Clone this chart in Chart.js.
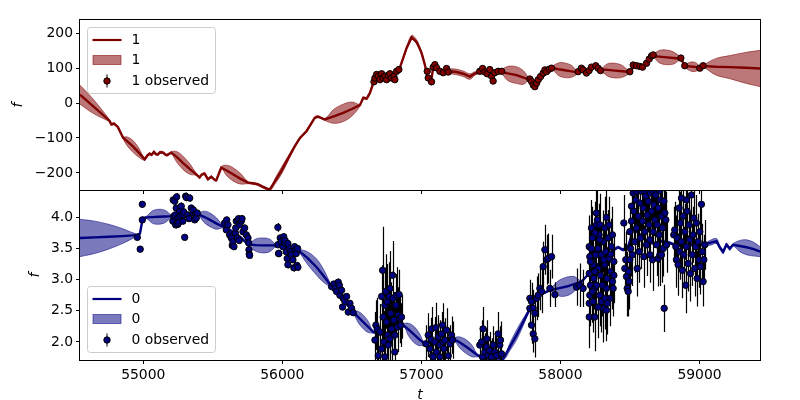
<!DOCTYPE html>
<html>
<head>
<meta charset="utf-8">
<script src="https://cdn.jsdelivr.net/npm/chart.js@4.4.1/dist/chart.umd.min.js"></script>
<style>
  html, body { margin: 0; padding: 0; background: #fff; }
  #wrap { position: relative; width: 800px; height: 400px; }
  #top { position: absolute; left: 0; top: 0; }
  #bottom { position: absolute; left: 0; top: 180px; }
</style>
</head>
<body>
<div id="wrap">
  <canvas id="top" width="800" height="200"></canvas>
  <canvas id="bottom" width="800" height="220"></canvas>
</div>
<script>
// shared axis
const xMin = 54545, xMax = 59435;
const xTicks = [55000, 56000, 57000, 58000, 59000];

// channel 1 (top panel)
const yRange1 = [-249, 238];
const yTicks1 = [-200, -100, 0, 100, 200];
// [t, mean, band half-width]
const gp1 = [
  [54545, 24, 27], [54600, 5, 24], [54651, -13, 19], [54700, -30, 12], [54758, -51, 3],
  [54770, -61, 3], [54789, -59, 3], [54818, -69, 3], [54854, -99, 3], [54885, -110, 13],
  [54926, -124, 17], [54968, -142, 13], [55010, -161, 3], [55030, -150, 3], [55046, -145, 3],
  [55060, -148, 3], [55077, -140, 3], [55090, -146, 3], [55106, -147, 3], [55120, -141, 3],
  [55142, -142, 3], [55160, -148, 3], [55173, -149, 3], [55201, -142, 3], [55240, -154, 15],
  [55285, -171, 19], [55335, -189, 15], [55381, -204, 3], [55405, -213, 3], [55420, -205, 3],
  [55441, -202, 3], [55465, -218, 3], [55489, -211, 3], [55510, -219, 3], [55525, -221, 3],
  [55561, -185, 3], [55600, -193, 15], [55645, -204, 19], [55700, -217, 15], [55753, -228, 3],
  [55790, -230, 3], [55825, -233, 3], [55860, -240, 3], [55909, -248, 3], [55950, -222, 8],
  [55992, -195, 10], [56040, -160, 7], [56088, -125, 3], [56127, -100, 3], [56175, -80, 3],
  [56234, -42, 3], [56258, -39, 3], [56306, -47, 3], [56370, -38, 20], [56438, -28, 25],
  [56500, -17, 20], [56558, -6, 3], [56582, 15, 3], [56606, 13, 3], [56630, 29, 3],
  [56659, 63, 3], [56700, 72, 3], [56750, 74, 3], [56790, 78, 3], [56822, 87, 3],
  [56845, 101, 3], [56894, 158, 4], [56930, 188, 6], [56966, 175, 6], [57001, 144, 4],
  [57025, 110, 3], [57045, 72, 3], [57068, 58, 3], [57085, 101, 3], [57109, 106, 3],
  [57145, 91, 3], [57205, 91, 7], [57253, 89, 8], [57300, 84, 8], [57349, 76, 8],
  [57385, 85, 5], [57433, 89, 3], [57492, 87, 3], [57564, 91, 3], [57620, 85, 20],
  [57684, 80, 24], [57735, 73, 19], [57775, 67, 3], [57816, 48, 3], [57852, 64, 3],
  [57900, 89, 3], [57936, 101, 3], [57985, 97, 18], [58032, 94, 21], [58080, 91, 17],
  [58127, 88, 3], [58163, 99, 3], [58206, 91, 3], [58247, 106, 3], [58288, 96, 3],
  [58340, 95, 18], [58391, 93, 21], [58445, 91, 17], [58499, 89, 3], [58535, 107, 3],
  [58590, 103, 3], [58623, 115, 3], [58662, 134, 3], [58712, 133, 18], [58763, 131, 21],
  [58815, 129, 17], [58866, 127, 3], [58896, 106, 3], [58925, 105, 11], [58954, 104, 14],
  [58980, 103, 11], [59007, 101, 3], [59026, 106, 3], [59120, 104, 24], [59218, 103, 33],
  [59330, 101, 44], [59435, 99, 52]
];
// [t, f, error]
const obs1 = [
  [56659, 61, 3], [56666, 72, 3], [56678, 82, 3], [56690, 77, 3], [56702, 67, 3], [56714, 84, 3],
  [56725, 72, 3], [56738, 77, 3], [56750, 67, 3], [56762, 80, 3], [56774, 84, 3], [56786, 72, 3],
  [56802, 77, 3], [56809, 67, 3], [56822, 91, 3], [56838, 96, 3],
  [57042, 91, 3], [57049, 72, 3], [57073, 61, 3], [57085, 103, 3], [57097, 110, 3], [57109, 101, 3],
  [57133, 91, 3], [57157, 87, 3], [57181, 99, 3], [57193, 89, 3],
  [57420, 91, 3], [57440, 99, 3], [57456, 89, 3], [57473, 84, 3], [57492, 96, 3], [57505, 77, 3],
  [57516, 63, 3], [57528, 87, 3], [57552, 91, 3], [57577, 91, 3],
  [57780, 69, 3], [57792, 62, 3], [57804, 52, 3], [57816, 47, 3], [57828, 57, 3], [57840, 67, 3],
  [57857, 76, 3], [57876, 86, 3], [57888, 95, 3], [57900, 90, 3], [57919, 97, 3], [57936, 100, 3],
  [58127, 90, 3], [58151, 100, 3], [58163, 95, 3], [58187, 86, 3], [58206, 93, 3], [58223, 103, 3],
  [58254, 107, 3], [58271, 100, 3], [58288, 93, 3],
  [58499, 90, 3], [58523, 109, 3], [58547, 107, 3], [58571, 105, 3], [58590, 103, 3], [58619, 114, 3],
  [58638, 126, 3], [58655, 135, 3], [58667, 138, 3],
  [58866, 129, 3], [58894, 107, 3], [59002, 100, 3], [59026, 107, 3]
];

// channel 0 (bottom panel)
const yRange0 = [1.71, 4.44];
const yTicks0 = [2.0, 2.5, 3.0, 3.5, 4.0];
const gp0 = [
  [54545, 3.67, 0.30], [54650, 3.68, 0.26], [54750, 3.69, 0.20], [54850, 3.70, 0.12], [54953, 3.715, 0.02],
  [54976, 3.74, 0.02], [54996, 3.98, 0.02], [55024, 4.00, 0.02], [55066, 4.005, 0.10], [55108, 4.01, 0.12],
  [55156, 4.015, 0.10], [55204, 4.02, 0.02], [55250, 4.04, 0.02], [55300, 4.06, 0.02], [55350, 4.05, 0.02],
  [55395, 4.05, 0.02], [55437, 4.01, 0.09], [55480, 3.96, 0.11], [55527, 3.90, 0.09], [55575, 3.85, 0.02],
  [55620, 3.80, 0.02], [55660, 3.74, 0.02], [55700, 3.68, 0.02], [55755, 3.565, 0.02], [55810, 3.555, 0.10],
  [55863, 3.55, 0.12], [55910, 3.55, 0.10], [55954, 3.55, 0.02], [56000, 3.54, 0.02], [56060, 3.51, 0.02],
  [56114, 3.47, 0.02], [56180, 3.35, 0.10], [56247, 3.20, 0.13], [56300, 3.05, 0.10], [56354, 2.89, 0.02],
  [56420, 2.72, 0.02], [56510, 2.48, 0.02], [56546, 2.40, 0.09], [56582, 2.32, 0.11], [56618, 2.24, 0.09],
  [56654, 2.16, 0.02], [56730, 2.12, 0.02], [56800, 2.18, 0.02], [56869, 2.27, 0.02], [56907, 2.20, 0.10],
  [56946, 2.12, 0.13], [56985, 2.04, 0.10], [57025, 1.97, 0.02], [57100, 2.00, 0.02], [57160, 2.03, 0.02],
  [57229, 2.05, 0.02], [57277, 1.99, 0.09], [57325, 1.92, 0.11], [57366, 1.85, 0.09], [57408, 1.78, 0.02],
  [57500, 1.75, 0.02], [57588, 1.73, 0.02], [57636, 1.92, 0.06], [57684, 2.11, 0.08], [57730, 2.31, 0.06],
  [57775, 2.51, 0.02], [57800, 2.60, 0.02], [57852, 2.75, 0.02], [57924, 2.83, 0.02], [57984, 2.86, 0.12],
  [58044, 2.89, 0.15], [58098, 2.93, 0.12], [58152, 2.97, 0.02], [58270, 3.25, 0.02], [58391, 3.49, 0.02],
  [58415, 3.52, 0.02], [58451, 3.48, 0.02], [58490, 3.55, 0.02], [58524, 3.82, 0.02], [58560, 3.75, 0.02],
  [58620, 3.62, 0.02], [58680, 3.58, 0.02], [58720, 3.62, 0.02], [58787, 3.59, 0.02], [58835, 3.55, 0.02],
  [58950, 3.56, 0.02], [59040, 3.57, 0.02], [59074, 3.59, 0.04], [59122, 3.62, 0.04], [59146, 3.52, 0.03],
  [59170, 3.45, 0.03], [59194, 3.56, 0.03], [59218, 3.50, 0.03], [59242, 3.56, 0.02], [59290, 3.54, 0.09],
  [59338, 3.52, 0.12], [59390, 3.49, 0.11], [59435, 3.45, 0.08]
];
const obs0 = [
  [54957, 3.68, .05], [54978, 3.49, .05], [54993, 4.21, .05], [54993, 3.96, .05],
  [55213, 3.94, .06], [55215, 4.28, .06], [55220, 4.02, .05], [55226, 4.26, .06], [55230, 4.04, .05],
  [55233, 3.88, .06], [55237, 4.15, .05], [55240, 4.33, .06], [55249, 3.99, .05], [55249, 3.89, .06],
  [55255, 3.92, .05], [55262, 4.10, .05], [55265, 4.02, .05], [55273, 4.18, .06], [55285, 3.94, .05],
  [55285, 4.04, .05], [55290, 4.09, .05], [55298, 3.68, .05], [55305, 4.34, .06], [55310, 4.32, .06],
  [55321, 4.04, .05], [55330, 3.98, .05], [55334, 4.31, .06], [55345, 4.15, .05], [55357, 4.07, .05],
  [55360, 4.12, .05], [55370, 3.96, .05], [55375, 4.05, .05], [55381, 3.99, .05], [55388, 4.07, .05],
  [55585, 3.91, .05], [55597, 3.80, .05], [55600, 3.96, .05], [55609, 3.88, .05], [55621, 3.72, .05],
  [55633, 3.67, .05], [55640, 3.55, .06], [55645, 3.61, .05], [55652, 3.53, .05], [55662, 3.75, .05],
  [55665, 3.83, .05], [55669, 3.94, .05], [55677, 3.67, .05], [55681, 3.96, .05], [55685, 3.98, .05],
  [55690, 3.63, .05], [55693, 3.88, .05], [55705, 3.94, .05], [55710, 3.98, .05], [55717, 3.77, .05],
  [55729, 3.83, .05], [55741, 3.72, .05], [55753, 3.67, .05], [55758, 3.59, .05], [55760, 3.48, .05],
  [55762, 3.41, .05], [55765, 3.39, .05],
  [55968, 3.84, .07], [55968, 3.56, .05], [55973, 3.42, .06], [55975, 3.42, .05], [55985, 3.67, .05],
  [55992, 3.61, .05], [56004, 3.53, .05], [56010, 3.69, .05], [56016, 3.59, .05], [56020, 3.63, .05],
  [56028, 3.45, .05], [56035, 3.34, .05], [56040, 3.24, .06], [56040, 3.58, .05], [56052, 3.50, .05],
  [56060, 3.45, .05], [56064, 3.40, .05], [56076, 3.32, .05], [56083, 3.19, .06], [56088, 3.53, .05],
  [56095, 3.47, .05], [56100, 3.42, .05], [56105, 3.23, .05], [56110, 3.50, .05], [56112, 3.20, .06],
  [56354, 2.89, .05], [56370, 2.93, .05], [56378, 2.86, .05], [56390, 2.81, .05], [56402, 2.96, .06],
  [56410, 2.91, .05], [56414, 2.75, .05], [56426, 2.83, .05], [56433, 2.56, .05], [56438, 2.70, .05],
  [56450, 2.65, .05], [56462, 2.73, .05], [56474, 2.48, .05], [56486, 2.62, .05], [56498, 2.54, .05],
  [56510, 2.47, .05],
  [56666, 2.03, .45], [56673, 2.27, .40], [56682, 2.21, .50], [56690, 1.78, .40], [56702, 2.16, .45],
  [56714, 2.73, .50], [56714, 1.89, .40], [56721, 3.15, .70], [56725, 2.40, .55], [56730, 2.00, .50],
  [56738, 2.59, .60], [56738, 1.76, .40], [56745, 2.81, .60], [56750, 2.32, .55], [56754, 2.65, .60],
  [56757, 2.11, .50], [56762, 1.95, .45], [56769, 2.73, .55], [56774, 2.86, .60], [56774, 2.05, .40],
  [56779, 2.46, .50], [56786, 2.21, .50], [56793, 3.07, .55], [56797, 2.70, .50], [56802, 2.35, .45],
  [56809, 2.11, .45], [56809, 1.84, .40], [56817, 2.59, .50], [56822, 2.75, .45], [56829, 2.24, .40],
  [56833, 2.43, .45], [56840, 2.76, .40], [56845, 2.38, .40], [56852, 2.27, .35], [56857, 2.40, .35],
  [57032, 1.97, .30], [57049, 2.11, .35], [57061, 1.89, .30], [57070, 2.04, .35], [57073, 2.21, .35],
  [57080, 1.78, .30], [57085, 1.76, .30], [57097, 2.00, .40], [57104, 2.23, .40], [57109, 1.84, .35],
  [57121, 2.08, .35], [57133, 1.95, .40], [57133, 1.76, .30], [57145, 2.13, .35], [57152, 2.27, .35],
  [57155, 2.00, .30], [57162, 1.89, .35], [57169, 2.03, .35], [57181, 2.19, .35], [57193, 1.78, .30],
  [57205, 1.97, .30], [57217, 2.11, .30], [57224, 2.03, .30],
  [57420, 1.95, .30], [57433, 2.00, .35], [57440, 1.76, .30], [57444, 2.21, .35], [57456, 1.84, .30],
  [57468, 1.92, .30], [57470, 2.05, .30], [57480, 1.78, .30], [57492, 1.86, .30], [57500, 1.72, .30],
  [57505, 1.76, .30], [57516, 1.95, .30], [57528, 1.84, .30], [57540, 1.78, .30], [57552, 2.13, .35],
  [57564, 1.95, .30], [57569, 2.03, .30], [57576, 1.81, .30],
  [57780, 2.70, .30], [57780, 2.54, .30], [57792, 2.27, .30], [57792, 2.65, .30], [57804, 2.13, .30],
  [57804, 2.54, .30], [57816, 2.05, .30], [57816, 2.46, .30], [57828, 2.70, .35], [57840, 2.75, .35],
  [57852, 2.86, .35], [57864, 2.81, .35], [57876, 3.21, .40], [57888, 3.48, .40], [57900, 3.32, .40],
  [57912, 3.34, .40], [57924, 2.86, .30], [57936, 3.37, .35], [57960, 2.76, .20],
  [58116, 2.88, .30], [58139, 2.91, .35], [58163, 2.86, .30],
  [58207, 3.53, .50], [58211, 3.37, .50], [58207, 3.10, .50], [58216, 2.91, .50], [58211, 2.75, .50],
  [58207, 2.62, .45], [58207, 2.40, .50], [58223, 3.83, .45], [58230, 3.67, .50], [58235, 3.24, .50],
  [58240, 3.02, .50], [58247, 2.86, .50], [58247, 2.40, .55], [58235, 2.65, .50], [58254, 3.40, .50],
  [58259, 4.07, .45], [58259, 3.88, .50], [58266, 3.96, .50], [58271, 3.50, .50], [58271, 3.18, .50],
  [58278, 3.72, .50], [58283, 2.75, .50], [58288, 3.07, .50], [58295, 3.40, .50], [58302, 2.91, .50],
  [58307, 3.61, .50], [58307, 2.54, .55], [58319, 3.24, .50], [58319, 3.83, .50], [58326, 3.45, .50],
  [58331, 4.00, .45], [58331, 2.86, .50], [58336, 3.02, .50], [58343, 3.67, .45], [58350, 3.34, .50],
  [58355, 2.70, .45], [58360, 3.13, .45], [58367, 3.53, .45], [58374, 2.97, .45], [58374, 3.72, .45],
  [58379, 2.86, .45], [58384, 3.29, .45], [58384, 3.07, .45], [58331, 2.51, .50], [58312, 3.32, .50],
  [58295, 2.65, .50], [58271, 2.56, .50], [58247, 3.13, .50], [58223, 3.50, .50], [58230, 2.81, .50],
  [58259, 2.91, .50], [58283, 3.64, .50], [58362, 3.41, .45], [58350, 3.88, .45], [58283, 3.88, .50],
  [58249, 3.75, .50], [58216, 3.29, .50], [58321, 2.70, .50], [58338, 2.62, .50],
  [58456, 3.91, .45], [58463, 3.18, .40], [58470, 3.32, .45], [58475, 3.05, .40], [58480, 2.86, .45],
  [58487, 2.81, .40], [58490, 3.13, .45], [58494, 2.97, .45], [58499, 3.77, .45], [58499, 3.32, .50],
  [58504, 3.50, .45], [58511, 4.18, .50], [58511, 3.94, .45], [58518, 3.40, .50], [58523, 4.39, .45],
  [58528, 4.10, .50], [58530, 4.50, .45], [58535, 3.61, .50], [58542, 4.28, .45], [58547, 3.83, .50],
  [58547, 4.42, .45], [58552, 3.18, .45], [58559, 4.02, .50], [58560, 4.55, .45], [58566, 3.45, .50],
  [58571, 4.23, .45], [58576, 3.67, .50], [58583, 4.42, .45], [58590, 3.94, .50], [58595, 4.15, .45],
  [58600, 3.37, .50], [58600, 4.60, .45], [58607, 3.77, .45], [58607, 4.42, .50], [58614, 4.34, .45],
  [58619, 3.56, .50], [58624, 4.04, .45], [58631, 4.26, .50], [58638, 3.88, .45], [58643, 3.64, .50],
  [58643, 3.40, .45], [58648, 4.39, .45], [58650, 4.52, .50], [58655, 4.10, .45], [58662, 3.32, .50],
  [58667, 3.77, .45], [58667, 4.42, .45], [58672, 4.20, .50], [58679, 3.96, .45], [58686, 4.36, .45],
  [58691, 3.56, .50], [58696, 3.88, .45], [58700, 4.58, .45], [58703, 4.15, .50], [58703, 3.34, .45],
  [58710, 3.72, .45], [58715, 3.40, .50], [58715, 4.43, .45], [58720, 4.28, .45], [58727, 4.02, .50],
  [58727, 3.40, .45], [58734, 3.83, .45], [58739, 3.50, .45], [58744, 4.26, .45], [58746, 2.54, .38],
  [58751, 4.07, .45], [58758, 3.96, .45], [58763, 3.56, .45],
  [58815, 3.72, .45], [58822, 3.80, .45], [58830, 3.53, .50], [58834, 3.32, .45], [58839, 3.67, .45],
  [58846, 3.24, .50], [58853, 4.15, .45], [58858, 3.45, .45], [58863, 3.91, .50], [58870, 3.61, .45],
  [58870, 4.31, .45], [58877, 3.15, .45], [58880, 4.55, .45], [58882, 4.02, .50], [58887, 3.40, .45],
  [58894, 3.77, .45], [58901, 2.91, .45], [58906, 3.53, .50], [58906, 4.28, .45], [58911, 4.10, .45],
  [58918, 3.26, .45], [58925, 3.88, .50], [58930, 3.64, .45], [58935, 3.10, .45], [58942, 4.36, .45],
  [58949, 3.40, .50], [58954, 3.72, .45], [58959, 3.99, .45], [58960, 4.50, .45], [58966, 3.18, .45],
  [58973, 3.53, .50], [58978, 3.91, .45], [58983, 3.02, .45], [58990, 3.61, .45], [58997, 3.32, .45],
  [59002, 3.77, .45], [59007, 3.21, .45], [59014, 4.21, .45], [59021, 3.45, .45], [59026, 2.97, .40],
  [59031, 3.32, .40], [59038, 3.56, .40]
];

Chart.defaults.font.family = "'DejaVu Sans', sans-serif";
Chart.defaults.font.size = 13.9;
Chart.defaults.color = '#000';

// error bars under the markers, frame and in-axes legend
const panelPlugin = {
  id: 'panel',
  beforeDatasetDraw(chart, args) {
    const ds = chart.data.datasets[args.index];
    if (!ds.errors) return;
    const { ctx, chartArea: a } = chart;
    const xs = chart.scales.x, ys = chart.scales.y;
    ctx.save();
    ctx.beginPath();
    ctx.rect(a.left, a.top, a.right - a.left, a.bottom - a.top);
    ctx.clip();
    ctx.strokeStyle = '#000';
    ctx.lineWidth = 1.2;
    ctx.beginPath();
    ds.data.forEach((p, i) => {
      const x = Math.round(xs.getPixelForValue(p.x)) + 0.5;
      ctx.moveTo(x, ys.getPixelForValue(p.y - ds.errors[i]));
      ctx.lineTo(x, ys.getPixelForValue(p.y + ds.errors[i]));
    });
    ctx.stroke();
    ctx.restore();
  },
  afterDraw(chart, args, opts) {
    const { ctx, chartArea: a } = chart;
    ctx.save();
    ctx.strokeStyle = '#000';
    ctx.lineWidth = 1;
    // both panels share the spine at the seam
    const top = opts.at === 'top' ? a.top - 0.5 : a.top + 0.5;
    ctx.strokeRect(a.left - 0.5, top, a.right - a.left + 1, a.bottom + 0.5 - top);

    const bx = a.left + 7.5;
    const by = opts.at === 'top' ? a.top + 7.5 : a.bottom - 73.5;
    ctx.beginPath();
    ctx.roundRect(bx, by, 128, 66, 3);
    ctx.fillStyle = 'rgba(255,255,255,0.8)';
    ctx.fill();
    ctx.strokeStyle = '#cccccc';
    ctx.stroke();

    // line handle
    ctx.strokeStyle = opts.line;
    ctx.lineWidth = 2.2;
    ctx.beginPath();
    ctx.moveTo(bx + 5, by + 12.5);
    ctx.lineTo(bx + 34, by + 12.5);
    ctx.stroke();
    // band handle
    ctx.fillStyle = opts.band;
    ctx.strokeStyle = opts.band;
    ctx.lineWidth = 1;
    ctx.fillRect(bx + 5.5, by + 28, 28, 9);
    ctx.strokeRect(bx + 5.5, by + 28, 28, 9);
    // observed handle
    ctx.strokeStyle = '#000';
    ctx.beginPath();
    ctx.moveTo(bx + 19.5, by + 47);
    ctx.lineTo(bx + 19.5, by + 60);
    ctx.stroke();
    ctx.beginPath();
    ctx.arc(bx + 19.5, by + 53.5, 3.2, 0, Math.PI * 2);
    ctx.fillStyle = opts.point;
    ctx.fill();
    ctx.stroke();

    ctx.fillStyle = '#000';
    ctx.font = "13.9px 'DejaVu Sans', sans-serif";
    ctx.textBaseline = 'middle';
    ctx.textAlign = 'left';
    ctx.fillText(opts.label, bx + 44, by + 12.5);
    ctx.fillText(opts.label, bx + 44, by + 33);
    ctx.fillText(opts.label + ' observed', bx + 44, by + 53.5);
    ctx.restore();
  }
};

function gpDatasets(gp, obs, line, band, point) {
  return [
    {
      data: obs.map(r => ({ x: r[0], y: r[1] })),
      errors: obs.map(r => r[2]),
      showLine: false,
      pointRadius: 3.2,
      pointBackgroundColor: point,
      pointBorderColor: '#000',
      pointBorderWidth: 1,
      clip: 0
    },
    {
      data: gp.map(r => ({ x: r[0], y: r[1] })),
      showLine: true, borderColor: line, borderWidth: 2.4, pointRadius: 0, clip: 0
    },
    {
      data: gp.map(r => ({ x: r[0], y: r[1] + r[2] })),
      showLine: true, borderColor: band, borderWidth: 1, backgroundColor: band,
      fill: '+1', pointRadius: 0, tension: 0.35, clip: 0
    },
    {
      data: gp.map(r => ({ x: r[0], y: r[1] - r[2] })),
      showLine: true, borderColor: band, borderWidth: 1,
      pointRadius: 0, tension: 0.35, clip: 0
    }
  ];
}

const tickGrid = { display: true, drawOnChartArea: false, drawTicks: true, tickLength: 4, color: '#000', lineWidth: 1 };

function xAxis(withLabels, height) {
  return {
    type: 'linear', min: xMin, max: xMax,
    afterBuildTicks: s => { s.ticks = xTicks.map(v => ({ value: v })); },
    afterFit: s => { s.height = height; s.paddingLeft = 0; s.paddingRight = 0; },
    grid: tickGrid,
    border: { display: false },
    ticks: { display: withLabels, padding: 3, maxRotation: 0, autoSkip: false, callback: v => String(v) },
    title: {
      display: withLabels, text: 't',
      font: { size: 13.9, style: 'italic', lineHeight: 0.65 }, padding: 0
    }
  };
}

function yAxis(range, ticks, fmt, titlePad) {
  return {
    type: 'linear', min: range[0], max: range[1],
    afterBuildTicks: s => { s.ticks = ticks.map(v => ({ value: v })); },
    afterFit: s => { s.width = 80; s.paddingTop = 0; s.paddingBottom = 0; },
    grid: tickGrid,
    border: { display: false },
    ticks: { padding: 3, autoSkip: false, callback: fmt },
    title: {
      display: true, text: 'f',
      font: { size: 13.9, style: 'italic' }, padding: { top: titlePad, bottom: 0 }
    }
  };
}

function baseOptions(padTop, x, y, legend) {
  return {
    responsive: false,
    animation: false,
    events: [],
    layout: { padding: { left: 0, right: 40, top: padTop, bottom: 0 } },
    scales: { x, y },
    plugins: { legend: { display: false }, tooltip: { enabled: false }, panel: legend }
  };
}

new Chart(document.getElementById('top'), {
  type: 'scatter',
  data: { datasets: gpDatasets(gp1, obs1, '#800000', 'rgba(128,0,0,0.53)', '#800000') },
  options: baseOptions(20,
    xAxis(false, 10),
    yAxis(yRange1, yTicks1, v => (v < 0 ? '\u2212' + (-v) : String(v)), 9.6),
    { at: 'top', label: '1', line: '#800000', band: 'rgba(128,0,0,0.53)', point: '#800000' }),
  plugins: [panelPlugin]
});

new Chart(document.getElementById('bottom'), {
  type: 'scatter',
  data: { datasets: gpDatasets(gp0, obs0, '#000080', 'rgba(0,0,128,0.52)', '#000080') },
  options: baseOptions(10,
    xAxis(true, 40),
    yAxis(yRange0, yTicks0, v => v.toFixed(1), 26.6),
    { at: 'bottom', label: '0', line: '#000080', band: 'rgba(0,0,128,0.52)', point: '#000080' }),
  plugins: [panelPlugin]
});
</script>
</body>
</html>
